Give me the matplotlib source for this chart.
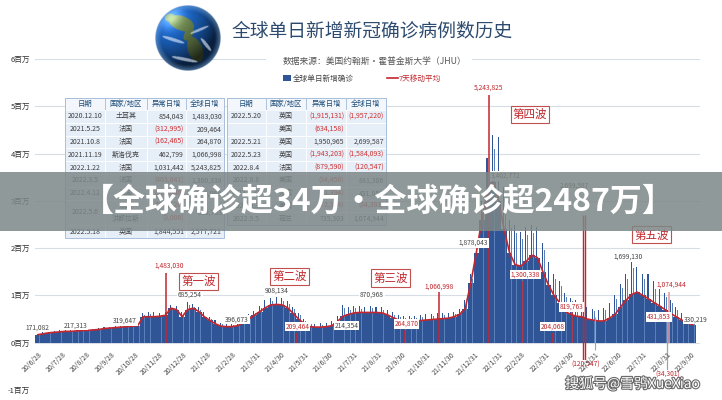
import datetime as dt
import numpy as np
import matplotlib
matplotlib.use('Agg')
import matplotlib.pyplot as plt
from matplotlib.patches import Rectangle
import matplotlib.patheffects as pe

plt.rcParams['font.family'] = ['Noto Sans CJK SC', 'DejaVu Sans']

START = dt.date(2020, 6, 28)

# ---------------- data (millions of cases) ----------------
# weekly values, weeks starting 2020-06-28
weekly_avg = [
    0.17, 0.19, 0.21, 0.22, 0.23, 0.24, 0.24, 0.25, 0.26, 0.26,
    0.27, 0.28, 0.30, 0.31, 0.32, 0.33, 0.34, 0.35, 0.36, 0.55,
    0.55, 0.55, 0.56, 0.58, 0.73, 0.70, 0.55, 0.70, 0.73, 0.66,
    0.55, 0.47, 0.40, 0.35, 0.34, 0.34, 0.36, 0.42, 0.50, 0.58,
    0.66, 0.74, 0.80, 0.81, 0.80, 0.74, 0.62, 0.50, 0.40, 0.34,
    0.33, 0.33, 0.34, 0.36, 0.45, 0.56, 0.60, 0.63, 0.64, 0.64,
    0.64, 0.64, 0.63, 0.59, 0.53, 0.48, 0.46, 0.46, 0.46, 0.47,
    0.48, 0.49, 0.50, 0.51, 0.52, 0.55, 0.60, 0.72, 1.26, 1.90,
    2.60, 3.20, 3.40, 3.00, 2.40, 1.90, 1.65, 1.62, 1.72, 1.85,
    1.80, 1.50, 1.22, 1.00, 0.85, 0.66, 0.60, 0.56, 0.55, 0.50,
    0.48, 0.46, 0.46, 0.52, 0.60, 0.76, 0.90, 1.02, 1.07, 1.00,
    0.93, 0.85, 0.78, 0.70, 0.62, 0.55, 0.48, 0.42, 0.38]
weekly_peak = [
    0.19, 0.22, 0.24, 0.25, 0.26, 0.27, 0.27, 0.28, 0.29, 0.29,
    0.30, 0.31, 0.33, 0.34, 0.35, 0.36, 0.37, 0.38, 0.39, 0.62,
    0.65, 0.64, 0.63, 0.66, 0.80, 0.78, 0.64, 0.86, 0.82, 0.75,
    0.64, 0.55, 0.48, 0.42, 0.40, 0.40, 0.43, 0.50, 0.60, 0.68,
    0.78, 0.90, 0.95, 0.97, 0.95, 0.88, 0.76, 0.62, 0.50, 0.42,
    0.40, 0.41, 0.42, 0.45, 0.56, 0.80, 0.75, 0.78, 0.77, 0.76,
    0.78, 0.76, 0.75, 0.70, 0.64, 0.58, 0.56, 0.56, 0.57, 0.58,
    0.60, 0.60, 0.62, 0.62, 0.63, 0.66, 0.72, 0.90, 1.45, 1.88,
    3.00, 3.90, 4.40, 4.35, 3.30, 2.60, 2.50, 2.35, 2.45, 2.50,
    2.45, 2.10, 1.70, 1.45, 1.30, 1.05, 0.95, 0.90, 0.82, 0.75,
    0.72, 0.70, 0.74, 0.85, 1.00, 1.25, 1.45, 1.70, 1.60, 1.45,
    1.45, 1.30, 1.20, 1.05, 0.90, 0.75, 0.62, 0.55, 0.50]

# anomaly days (global daily total, millions)
anomaly_dates = ['2020-12-10', '2021-05-25', '2021-10-08', '2021-11-19', '2022-01-22',
                 '2022-03-05', '2022-04-12', '2022-05-06', '2022-09-05']
anomaly_values = [1.483030, 0.209464, 0.264870, 1.066998, 5.243825,
                  1.300338, 0.204068, 0.819763, 1.074944]
spike_dates = ['2022-05-20', '2022-05-23']
spike_high = 2.699587
spike_low = -0.50

tick_labels = ['20/6/28', '20/7/28', '20/8/28', '20/9/28', '20/10/28', '20/11/28', '20/12/28',
               '21/1/28', '21/2/28', '21/3/31', '21/4/30', '21/5/31', '21/6/30', '21/7/31',
               '21/8/31', '21/9/30', '21/10/31', '21/11/30', '21/12/31', '22/1/31', '22/2/28',
               '22/3/31', '22/4/30', '22/5/31', '22/6/30', '22/7/31', '22/8/31', '22/9/30']
y_ticks = [-1, 0, 1, 2, 3, 4, 5, 6]

# value labels: text, day offset, y (millions), red?
labels_text = ['171,082', '217,313', '319,647', '1,483,030', '685,254', '396,673', '908,134',
               '209,464', '214,354', '870,968', '264,870', '1,066,998', '1,878,043', '5,243,825',
               '3,402,772', '1,300,338', '2,699,587', '204,068', '819,763', '(120,547)',
               '1,699,130', '1,074,944', '431,853', '(34,301)', '330,219']
labels_day = [2.5, 51, 113.5, 169, 195.5, 255, 305, 331, 393, 425, 468.5, 510, 553, 572.5,
              593, 618, 680, 652.5, 676.5, 694, 748, 802, 787, 797.5, 833.5]
labels_y = [0.32, 0.36, 0.465, 1.63, 1.01, 0.49, 1.10, 0.34, 0.36, 1.01, 0.40, 1.18, 2.11, 5.39,
            3.53, 1.44, 3.32, 0.34, 0.76, -0.47, 1.82, 1.23, 0.55, -0.68, 0.49]
labels_red = [0, 0, 0, 1, 0, 0, 0, 1, 0, 0, 1, 1, 0, 1, 0, 1, 0, 1, 1, 1, 0, 1, 1, 1, 0]

waves = ['第一波', '第二波', '第三波', '第四波', '第五波']
waves_day = [206, 321, 448, 624, 777.5]
waves_y = [1.29, 1.40, 1.37, 4.82, 2.28]

table_header = ['日期', '国家/地区', '异常日增', '全球日增']
left_rows = [
    ('2020.12.10', ['土耳其'], ['854,043'], '1,483,030'),
    ('2021.5.25', ['法国'], ['(312,995)'], '209,464'),
    ('2021.10.8', ['法国'], ['(162,465)'], '264,870'),
    ('2021.11.19', ['斯洛伐克'], ['462,799'], '1,066,998'),
    ('2022.1.22', ['法国'], ['1,031,442'], '5,243,825'),
    ('2022.3.5', ['法国'], ['(403,041)'], '1,300,338'),
    ('2022.4.12', ['法国'], ['(612,040)'], '204,068'),
    ('2022.5.6', ['法国', '洪都拉斯'], ['(556,120)', '(3,000)'], '819,763'),
    ('2022.5.18', ['英国'], ['1,844,551'], '2,577,721'),
]
right_rows = [
    ('2022.5.20', ['英国'], ['(1,915,131)'], '(1,957,220)'),
    ('', ['美国'], ['(634,158)'], ''),
    ('2022.5.21', ['英国'], ['1,950,965'], '2,699,587'),
    ('2022.5.23', ['英国'], ['(1,943,203)'], '(1,584,093)'),
    ('2022.8.4', ['法国'], ['(879,590)'], '(120,547)'),
    ('2022.8.8', ['美国'], ['(34,450)'], '881,306'),
    ('2022.8.31', ['法国'], ['(71,394)'], '431,853'),
    ('2022.9.3', ['美国'], ['(72,394)'], '(34,301)'),
    ('2022.9.5', ['荷兰'], ['735,303'], '1,074,944'),
]

# ---------------- helpers ----------------
def day_of(s):
    y, m, d = map(int, s.split('-'))
    return (dt.date(y, m, d) - START).days

def tick_day(s):
    y, m, d = map(int, s.split('/'))
    return (dt.date(2000 + y, m, d) - START).days

BLUE = '#2f5597'
RED = '#c4262e'
DARK = '#3a3a3a'

W, H = 722, 400
fig = plt.figure(figsize=(W / 100, H / 100), dpi=100)
fig.patch.set_facecolor('white')

# main chart axes (pixel frame: x 35..700, y 59..390)
ax = fig.add_axes([35 / W, 10 / H, 665 / W, 331 / H])
ax.set_xlim(0, 665 / 0.793)
ax.set_ylim(-1, 6)
for s in ax.spines.values():
    s.set_visible(False)
ax.set_xticks([])
ax.set_yticks(y_ticks)
ax.set_yticklabels([f'{v}百万' for v in y_ticks])
ax.tick_params(axis='y', length=0, pad=3.5, labelsize=5.5, labelcolor='#333333')
ax.grid(axis='y', color='#d6dde5', lw=0.8)
ax.set_axisbelow(True)

n = len(weekly_avg)
wstart = np.arange(n) * 7
ax.bar(wstart, weekly_avg, width=7, align='edge', color=BLUE, linewidth=0, zorder=2)
ax.bar(wstart + 3, weekly_peak, width=1.3, align='center', color=BLUE, linewidth=0, zorder=2)
ax.bar(wstart + 5.5, [a * 0.93 for a in weekly_peak], width=0.9, align='center',
       color='#5b7fb8', linewidth=0, zorder=2)
ax.plot(wstart + 3.5, weekly_avg, color=RED, lw=1.2, zorder=3)

# anomaly lines
for d, v in zip(anomaly_dates, anomaly_values):
    col = '#e79aa3' if d == '2022-09-05' else RED
    ax.vlines(day_of(d), 0, v, color=col, lw=1.1, zorder=4)
for d in spike_dates:
    ax.vlines(day_of(d), spike_low, spike_high, color=RED, lw=1.0, zorder=4)
ax.vlines(day_of('2022-09-03'), -0.62, 0.50, color='#9aa4ad', lw=0.9, zorder=4)
ax.vlines(day_of('2022-06-04'), -0.15, 0.55, color='#9aa4ad', lw=0.8, zorder=4)

# value labels
for t, d, y, r in zip(labels_text, labels_day, labels_y, labels_red):
    ax.text(d, y, t, ha='center', va='center', fontsize=4.8,
            color='#c0262c' if r else '#454545', zorder=6, clip_on=False,
            bbox=dict(boxstyle='square,pad=0.12', fc='white', ec='none'))

for t, d, y in zip(waves, waves_day, waves_y):
    ax.text(d, y, t, ha='center', va='center', fontsize=8.3, color='#c0262c', zorder=6,
            bbox=dict(boxstyle='square,pad=0.18', fc='white', ec='#c0504d', lw=0.8))

# date tick labels
for s in tick_labels:
    ax.text(tick_day(s) + 4, -0.17, s, rotation=45, ha='right', va='top',
            rotation_mode='anchor', fontsize=5, color='#444444', zorder=6, clip_on=False)

# ---------------- overlay in pixel coordinates ----------------
ov = fig.add_axes([0, 0, 1, 1], zorder=10)
ov.set_xlim(0, W)
ov.set_ylim(H, 0)
ov.axis('off')

# globe
N = 160
g = np.linspace(-1, 1, N)
gx, gy = np.meshgrid(g, g)
rr = np.hypot(gx, gy)
zz = np.sqrt(np.clip(1 - rr ** 2, 0, None))
Lv = np.array([-0.5, -0.6, 0.62]); Lv /= np.linalg.norm(Lv)
shade = np.clip(gx * Lv[0] + gy * Lv[1] + zz * Lv[2], 0, 1)
img = np.zeros((N, N, 4))
img[..., :3] = np.array([0.10, 0.36, 0.70]) * (0.35 + 0.85 * shade[..., None])

def ell(cx, cy, rx, ry, ang):
    c, s_ = np.cos(ang), np.sin(ang)
    dx, dy = gx - cx, gy - cy
    u = (dx * c + dy * s_) / rx
    v = (-dx * s_ + dy * c) / ry
    return u ** 2 + v ** 2 <= 1

land = (ell(-0.2, -0.45, 0.40, 0.22, 0.35) | ell(0.02, -0.12, 0.12, 0.22, 0.6) |
        ell(0.22, 0.35, 0.22, 0.40, -0.35) | ell(-0.55, -0.62, 0.16, 0.12, 0.0))
land &= rr < 0.97
img[land, :3] = np.array([0.38, 0.47, 0.28]) * (0.35 + 0.85 * shade[land][:, None])
clouds = ((ell(-0.45, 0.05, 0.35, 0.05, 0.3) | ell(0.35, -0.25, 0.3, 0.04, -0.4) |
           ell(-0.1, 0.65, 0.4, 0.05, 0.2) | ell(0.55, 0.2, 0.25, 0.05, 0.9)) & (rr < 0.95))
img[clouds, :3] = img[clouds, :3] * 0.4 + 0.6 * np.array([0.92, 0.95, 1.0])
rim = np.clip((rr - 0.82) / 0.18, 0, 1)
img[..., :3] = img[..., :3] * (1 - 0.45 * rim[..., None]) + np.array([0.6, 0.8, 1.0]) * 0.45 * rim[..., None]
img[..., :3] += (shade ** 18)[..., None] * 0.35
img[..., :3] = np.clip(img[..., :3], 0, 1)
img[..., 3] = np.clip((1 - rr) * N / 2, 0, 1)
ov.imshow(img, extent=(155, 221, 71, 5), interpolation='bilinear', zorder=3)
ov.set_xlim(0, W)
ov.set_ylim(H, 0)
ov.set_aspect('auto')

ov.text(232, 31, '全球单日新增新冠确诊病例数历史', fontsize=13.5, color='#2c4a6e',
        ha='left', va='center', zorder=4)
ov.add_patch(Rectangle((266, 54), 206, 13, fc='white', ec='none', zorder=3))
ov.text(283, 61, '数据来源：美国约翰斯·霍普金斯大学（JHU）', fontsize=6.3, color='#555555',
        ha='left', va='center', zorder=4)
ov.add_patch(Rectangle((283, 75), 8, 6, fc=BLUE, ec='none', zorder=4))
ov.text(293, 78.5, '全球单日新增确诊', fontsize=5.5, color='#444444', ha='left', va='center', zorder=4)
ov.plot([387, 398], [78, 78], color=RED, lw=1.2, zorder=4)
ov.text(399, 78.5, '7天移动平均', fontsize=5.5, color='#c0262c', ha='left', va='center', zorder=4)


def draw_table(xe, rows, y0=98.0, hh=12.0, rh=12.8):
    for c in range(4):
        ov.add_patch(Rectangle((xe[c], y0), xe[c + 1] - xe[c], hh, fc='#f3f7fc', ec='#a8c0dc',
                               lw=0.6, zorder=5))
        ov.text((xe[c] + xe[c + 1]) / 2, y0 + hh / 2, table_header[c], fontsize=5.3,
                color='#1f4e79', ha='center', va='center', zorder=6)
    y = y0 + hh
    for date, ctry, anom, tot in rows:
        k = len(ctry)
        h = rh * k
        for c in range(4):
            ov.add_patch(Rectangle((xe[c], y), xe[c + 1] - xe[c], h, fc='#e6eef8', ec='white',
                                   lw=0.6, zorder=5))
        ov.text((xe[0] + xe[1]) / 2, y + h / 2, date, fontsize=5, color='#404040',
                ha='center', va='center', zorder=6)
        for j in range(k):
            yc = y + rh * (j + 0.5)
            ov.text((xe[1] + xe[2]) / 2, yc, ctry[j], fontsize=5, color='#404040',
                    ha='center', va='center', zorder=6)
            ov.text(xe[3] - 2, yc, anom[j], fontsize=5,
                    color='#d03030' if anom[j].startswith('(') else '#404040',
                    ha='right', va='center', zorder=6)
        ov.text(xe[4] - 2, y + h / 2, tot, fontsize=5,
                color='#d03030' if tot.startswith('(') else '#404040',
                ha='right', va='center', zorder=6)
        y += h
    ov.add_patch(Rectangle((xe[0], y0), xe[4] - xe[0], y - y0, fc='none', ec='#a8c0dc',
                           lw=0.7, zorder=7))


draw_table([65, 105, 147, 186, 224], left_rows)
draw_table([227, 266, 306, 346, 386], right_rows)

# banner
ov.add_patch(Rectangle((0, 172), W, 59, fc='#7d8787', ec='none', alpha=0.85, zorder=20))
ov.text(378, 202, '【全球确诊超34万·全球确诊超2487万】', fontsize=23, color='white',
        weight='bold', ha='center', va='center', zorder=21)

# watermark
ov.text(700, 384, '搜狐号@雪鸮XueXiao', fontsize=10, color='white', ha='right', va='center',
        zorder=22, path_effects=[pe.withStroke(linewidth=1.6, foreground='#6b6b6b')])

fig.savefig('out.png', dpi=100)
